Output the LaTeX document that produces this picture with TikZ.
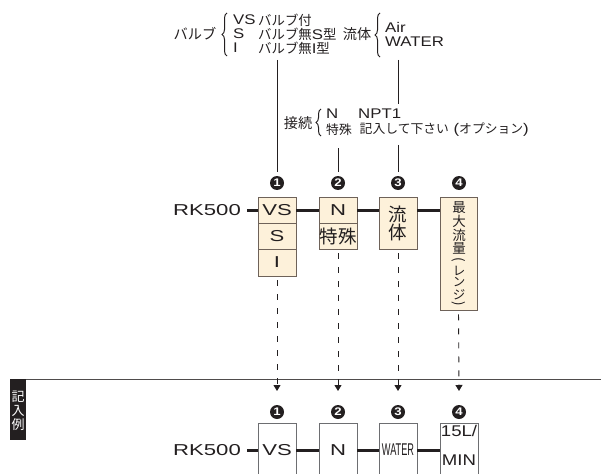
\documentclass[tikz,border=0pt]{standalone}
\usepackage{graphicx}
\usepackage{fontspec}
\setmainfont{Noto Sans CJK JP}
\newfontfamily\jp{Noto Sans CJK JP}
\newfontfamily\lat[FakeStretch=1.2]{Liberation Sans}
\newfontfamily\latw[FakeStretch=1.4]{Liberation Sans}
\newfontfamily\latn[FakeStretch=0.54]{Liberation Sans}
\usetikzlibrary{decorations.pathreplacing,arrows.meta}
\definecolor{ink}{HTML}{231F20}
\definecolor{cream}{HTML}{FDF1DA}
\definecolor{edge}{HTML}{6E6259}
\definecolor{edgeg}{HTML}{6D6E71}
\tikzset{
 txt/.style={inner sep=0pt, text=ink},
 ann/.style={txt, font=\jp\fontsize{13.4}{14}\selectfont},
 annsm/.style={txt, font=\jp\fontsize{12.8}{14}\selectfont},
 annbig/.style={txt, font=\jp\fontsize{14.2}{15}\selectfont},
 annl/.style={txt, font=\lat\fontsize{14}{14}\selectfont},
 big/.style={txt, font=\latw\fontsize{15.8}{16}\selectfont},
 bigjp/.style={txt, font=\jp\fontsize{18.5}{19}\selectfont},
 vch/.style={txt, font=\jp\fontsize{13.5}{13.5}\selectfont},
 vkn/.style={txt, font=\jp\fontsize{12.5}{12.5}\selectfont},
 bul/.style={circle, fill=ink, inner sep=0pt, minimum size=14pt, text=white, font=\lat\bfseries\fontsize{11}{11}\selectfont},
 ubox/.style={draw=edge, fill=cream, line width=0.9pt, inner sep=0pt, minimum width=38pt},
 lbox/.style={draw=edgeg, fill=white, line width=0.9pt, inner sep=0pt, minimum width=38pt, minimum height=67pt},
 bar/.style={line width=3pt, ink},
 lead/.style={line width=0.9pt, ink},
 dashlead/.style={line width=0.9pt, ink, dash pattern=on 6pt off 8pt, dash phase=-4pt, -{Triangle[width=7pt,length=6pt]}},
 brc/.style={decorate, decoration={brace, amplitude=5pt}, line width=1pt, ink},
}
\begin{document}
\begin{tikzpicture}[x=1pt,y=-1pt]
\useasboundingbox (0,0) rectangle (601,473);
\clip (0,0) rectangle (601,473);

% ---- top annotations: valve
\node[annbig] (lv) at (195,34) {バルブ};
\draw[brc] (227,56) -- (227,13);
\node[annl,anchor=west] (vs0) at (233,20) {VS};
\node[ann,anchor=west] (vs0t) at (258,20) {バルブ付};
\node[annl,anchor=west] (s0) at (233,34) {S};
\node[ann,anchor=west] (s0t) at (258,34) {バルブ無{\lat\fontsize{14}{14}\selectfont S}型};
\node[annl,anchor=west] (i0) at (233,48) {I};
\node[ann,anchor=west] (i0t) at (258,48) {バルブ無{\lat\fontsize{14}{14}\selectfont I}型};

% ---- fluid
\node[annbig] (lf) at (357,34) {流体};
\draw[brc] (380,57) -- (380,13);
\node[annl,anchor=west] (air) at (385,27) {Air};
\node[annl,anchor=west] (wat) at (385,42) {WATER};

% ---- connection
\node[annbig] (lc) at (298,123) {接続};
\draw[brc] (321,136) -- (321,109);
\node[annl,anchor=west] (cn) at (326,114) {N};
\node[annl,anchor=west] (cnpt) at (358,114) {NPT1};
\node[annsm,anchor=west] (cs) at (326,130) {特殊};
\node[annsm,anchor=east] (cst) at (529,130) {記入して下さい{\lat\fontsize{14}{14}\selectfont\ (}オプション{\lat\fontsize{14}{14}\selectfont )}};

% ---- upper bullets
\node[bul] (ub1) at (277,183) {1};
\node[bul] (ub2) at (338,183) {2};
\node[bul] (ub3) at (398,183) {3};
\node[bul] (ub4) at (459,183) {4};

\coordinate (t1) at (277,60);
\coordinate (t2) at (338,148);
\coordinate (t3) at (398,60);
\coordinate (t3b) at (398,104);
\coordinate (t3c) at (398,145);
\draw[lead,shorten >=4pt] (t1) -- (ub1);
\draw[lead,shorten >=4pt] (t2) -- (ub2);
\draw[lead] (t3) -- (t3b);
\draw[lead,shorten >=4pt] (t3c) -- (ub3);

% ---- upper code
\node[big] (rk1) at (207,210) {RK500};
\coordinate (rk1e) at (247,210);
\node[ubox,minimum height=26pt] (bvs) at (277,210) {};
\node[ubox,minimum height=26pt] (bs) at (277,236) {};
\node[ubox,minimum height=27pt] (bi) at (277,262.5) {};
\node[ubox,minimum height=26pt] (bn) at (338,210) {};
\node[ubox,minimum height=26pt] (bsp) at (338,236) {};
\node[ubox,minimum height=52pt] (bfl) at (398,223) {};
\node[ubox,minimum width=37pt,minimum height=113pt] (bmx) at (458.5,253.5) {};
\draw[bar] (rk1e) -- (rk1e -| bvs.west);
\draw[bar] (rk1e -| bvs.east) -- (rk1e -| bn.west);
\draw[bar] (rk1e -| bn.east) -- (rk1e -| bfl.west);
\draw[bar] (rk1e -| bfl.east) -- (rk1e -| bmx.west);

\node[big] (tvs) at (bvs) {VS};
\node[big] (ts) at (bs) {S};
\node[big] (ti) at (bi) {I};
\node[big] (tn) at (bn) {N};
\node[bigjp] (tsp) at (338,236.5) {特殊};
\node[bigjp] (tfl1) at (398,214) {流};
\node[bigjp] (tfl2) at (398,232) {体};
\node[vch] (m1) at (459,208) {最};
\node[vch] (m2) at (459,221.5) {大};
\node[vch] (m3) at (459,235) {流};
\node[vch] (m4) at (459,248.5) {量};
\node[vch] (m5) at (459,260) {\rotatebox{-90}{(}};
\node[vkn] (m6) at (459,270.5) {レ};
\node[vkn] (m7) at (459,282.5) {ン};
\node[vkn] (m8) at (459,294.5) {ジ};
\node[vch] (m9) at (459,304) {\rotatebox{-90}{)}};

% ---- divider
\node[fill=ink, inner sep=0pt, minimum width=16pt, minimum height=61pt] (kb) at (18,409.5) {};
\node[txt,text=white,font=\jp\fontsize{13}{13}\selectfont] (k1) at (18,397) {記};
\node[txt,text=white,font=\jp\fontsize{13}{13}\selectfont] (k2) at (18,411) {入};
\node[txt,text=white,font=\jp\fontsize{13}{13}\selectfont] (k3) at (18,425) {例};
\coordinate (hr) at (601,379.5);
\draw[line width=1.2pt, ink!80] (kb.north east |- hr) -- (hr);

% ---- dashed arrows
\coordinate (a1) at (277,391);
\coordinate (a2) at (338,391);
\coordinate (a3) at (398,391);
\coordinate (a4) at (459,391);
\draw[dashlead] (bi.south) -- (a1);
\draw[dashlead] (bsp.south) -- (a2);
\draw[dashlead] (bfl.south) -- (a3);
\draw[dashlead] (bmx.south) -- (a4);

% ---- lower example
\node[bul] (lb1) at (277,412) {1};
\node[bul] (lb2) at (338,412) {2};
\node[bul] (lb3) at (398,412) {3};
\node[bul] (lb4) at (459,412) {4};

\node[big] (rk2) at (207,450) {RK500};
\coordinate (rk2e) at (247,450);
\node[lbox] (x1) at (277,456.5) {};
\node[lbox] (x2) at (338,456.5) {};
\node[lbox] (x3) at (398,456.5) {};
\node[lbox] (x4) at (459,456.5) {};
\draw[bar] (rk2e) -- (rk2e -| x1.west);
\draw[bar] (rk2e -| x1.east) -- (rk2e -| x2.west);
\draw[bar] (rk2e -| x2.east) -- (rk2e -| x3.west);
\draw[bar] (rk2e -| x3.east) -- (rk2e -| x4.west);
\node[big] (xv) at (277,450) {VS};
\node[big] (xn) at (338,450) {N};
\node[txt,font=\latn\fontsize{17}{17}\selectfont] (xw) at (398,450) {WATER};
\node[txt,font=\lat\fontsize{15.5}{16}\selectfont] (xq1) at (459,431) {15L/};
\node[txt,font=\lat\fontsize{15.5}{16}\selectfont] (xq2) at (459,460) {MIN};
\end{tikzpicture}
\end{document}
